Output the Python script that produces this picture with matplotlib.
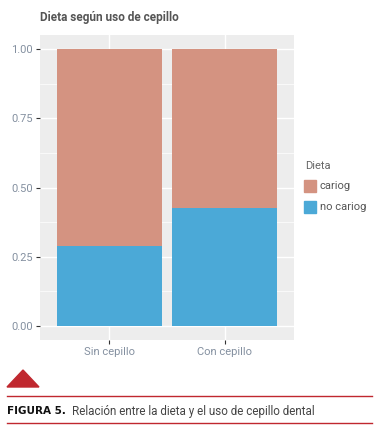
import matplotlib.pyplot as plt
from matplotlib.patches import Polygon, Rectangle
from matplotlib.lines import Line2D

plt.rcParams['font.family'] = ['Roboto', 'DejaVu Sans']

grupos = ['Sin cepillo', 'Con cepillo']
no_cariog = [0.29, 0.425]
cariog = [1 - v for v in no_cariog]
color_cariog = '#D49381'
color_no = '#4BA9D7'

fig = plt.figure(figsize=(3.84, 4.46), dpi=100)
ax = fig.add_axes([40/384, 1-340/446, 254/384, 305/446])
ax.set_facecolor('#EDEDED')

x = range(len(grupos))
ax.bar(x, no_cariog, width=0.91, color=color_no, zorder=3, label='no cariog')
ax.bar(x, cariog, bottom=no_cariog, width=0.91, color=color_cariog, zorder=3, label='cariog')

ax.set_xlim(-0.6, 1.6)
ax.set_ylim(-0.05, 1.05)
ax.set_yticks([0, 0.25, 0.5, 0.75, 1.0])
ax.set_yticklabels(['0.00', '0.25', '0.50', '0.75', '1.00'])
ax.set_yticks([0.125, 0.375, 0.625, 0.875], minor=True)
ax.set_xticks(list(x))
ax.set_xticklabels(grupos)
ax.grid(True, which='major', color='white', linewidth=1.0, zorder=0)
ax.grid(True, which='minor', axis='y', color='white', linewidth=0.5, zorder=0)
for s in ax.spines.values():
    s.set_visible(False)
ax.tick_params(which='major', length=3, width=0.8, color='#333333', labelsize=8, labelcolor='#8490a0', pad=2)
ax.tick_params(which='minor', length=0)

fig.text(40/384, 1-18/446, 'Dieta según uso de cepillo', fontsize=8.5, fontweight='bold',
         color='#555555', va='center', ha='left')

# leyenda
fig.text(305/384, 1-166/446, 'Dieta', fontsize=8, color='#666666', va='center')
for yy, col, lab in [(186, color_cariog, 'cariog'), (207, color_no, 'no cariog')]:
    fig.patches.append(Rectangle((304/384, 1-(yy+6)/446), 12/384, 12/446, color=col,
                                 transform=fig.transFigure))
    fig.text(320/384, 1-yy/446, lab, fontsize=8, color='#555555', va='center')

# pie de figura
rojo = '#C0282F'
fig.patches.append(Polygon([(7/384, 1-387/446), (39/384, 1-387/446), (23/384, 1-370/446)],
                           closed=True, color=rojo, transform=fig.transFigure))
fig.lines.append(Line2D([7/384, 372/384], [1-396/446]*2, color=rojo, linewidth=1,
                        transform=fig.transFigure))
fig.lines.append(Line2D([7/384, 372/384], [1-423/446]*2, color=rojo, linewidth=1,
                        transform=fig.transFigure))
fig.text(7/384, 1-411/446, 'FIGURA 5.', fontsize=7.5, fontweight='heavy', color='#111111',
         va='center', ha='left', family='DejaVu Sans')
fig.text(72/384, 1-411/446, 'Relación entre la dieta y el uso de cepillo dental', fontsize=8.4,
         color='#444444', va='center', ha='left')

fig.savefig('out.png', dpi=100)
